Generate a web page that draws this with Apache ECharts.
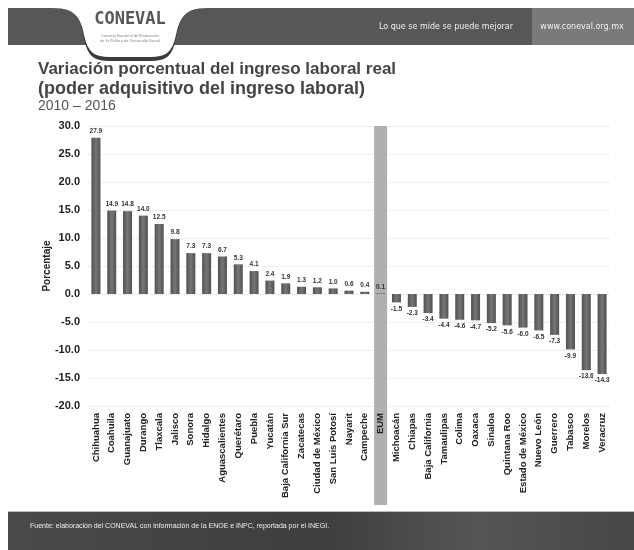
<!DOCTYPE html>
<html><head><meta charset="utf-8">
<script src="https://cdn.jsdelivr.net/npm/echarts@6/dist/echarts.min.js"></script>
<style>html,body{margin:0;padding:0;background:#fff}#c{width:634px;height:550px}</style>
</head><body><div id="c"></div>
<script>
var categories = ['Chihuahua','Coahuila','Guanajuato','Durango','Tlaxcala','Jalisco','Sonora','Hidalgo','Aguascalientes','Querétaro','Puebla','Yucatán','Baja California Sur','Zacatecas','Ciudad de México','San Luis Potosí','Nayarit','Campeche','EUM','Michoacán','Chiapas','Baja California','Tamaulipas','Colima','Oaxaca','Sinaloa','Quintana Roo','Estado de México','Nuevo León','Guerrero','Tabasco','Morelos','Veracruz'];
var values = [27.9,14.9,14.8,14.0,12.5,9.8,7.3,7.3,6.7,5.3,4.1,2.4,1.9,1.3,1.2,1.0,0.6,0.4,0.1,-1.5,-2.3,-3.4,-4.4,-4.6,-4.7,-5.2,-5.6,-6.0,-6.5,-7.3,-9.9,-13.6,-14.3];
var highlight = 'EUM';
var yMin = -20, yMax = 30, yStep = 5;

var NARROW = '"Liberation Sans Narrow","Liberation Sans",Arial,sans-serif';
var chart = echarts.init(document.getElementById('c'), null, {renderer:'canvas'});

var barColor = new echarts.graphic.LinearGradient(0,0,1,0,[
  {offset:0,color:'#505050'},{offset:0.5,color:'#767676'},{offset:1,color:'#505050'}]);

var data = values.map(function(v){
  return {value:v, label:{position: v < 0 ? 'bottom' : 'top'}};
});

function cubic(p0,p1,p2,p3,n){var out=[];for(var i=0;i<=n;i++){var t=i/n,u=1-t;
  out.push([u*u*u*p0[0]+3*u*u*t*p1[0]+3*u*t*t*p2[0]+t*t*t*p3[0],u*u*u*p0[1]+3*u*u*t*p1[1]+3*u*t*t*p2[1]+t*t*t*p3[1]]);}return out;}
function tab(bottom){
  var pts=[];
  pts=pts.concat(cubic([52,8],[72,8],[80,14],[84,bottom-22],12));
  pts=pts.concat(cubic([84,bottom-22],[88,bottom-4],[94,bottom],[110,bottom],8));
  pts.push([150,bottom]);
  pts=pts.concat(cubic([150,bottom],[166,bottom],[172,bottom-4],[176,bottom-22],8));
  pts=pts.concat(cubic([176,bottom-22],[180,14],[188,8],[208,8],12));
  return pts;
}

var staticGraphics = [
  {type:'rect', shape:{x:8,y:8,width:626,height:37}, style:{fill:'#575757'}, z:0},
  {type:'rect', shape:{x:532,y:8,width:102,height:37}, style:{fill:'#7a7a7a'}, z:0},
  {type:'polygon', shape:{points:tab(61)}, style:{fill:'#3a3a3a'}, z:0},
  {type:'polygon', shape:{points:tab(57)}, style:{fill:'#fff'}, z:0},
  {type:'text', style:{x:130,y:11,text:'CONEVAL',fill:'#555',font:'bold 17px "DejaVu Sans Mono",monospace',textAlign:'center'}, z:1},
  {type:'text', style:{x:130,y:33,text:'Consejo Nacional de Evaluación\nde la Política de Desarrollo Social',fill:'#888',font:'4px "Liberation Sans",sans-serif',textAlign:'center',lineHeight:5}, z:1},
  {type:'text', style:{x:446,y:27,text:'Lo que se mide se puede mejorar',fill:'#f0f0f0',font:'8px "DejaVu Sans",sans-serif',textAlign:'center',textVerticalAlign:'middle'}, z:1},
  {type:'text', style:{x:582,y:27,text:'www.coneval.org.mx',fill:'#f0f0f0',font:'8px "DejaVu Sans",sans-serif',textAlign:'center',textVerticalAlign:'middle'}, z:1},
  {type:'text', style:{x:38,y:61,text:'Variación porcentual del ingreso laboral real',fill:'#444',font:'bold 17px '+NARROW}, z:1},
  {type:'text', style:{x:38,y:80,text:'(poder adquisitivo del ingreso laboral)',fill:'#444',font:'bold 18px '+NARROW}, z:1},
  {type:'text', style:{x:38,y:99,text:'2010 – 2016',fill:'#555',font:'14px '+NARROW}, z:1},
  {type:'rect', shape:{x:8,y:511,width:626,height:39}, style:{fill:new echarts.graphic.LinearGradient(0,0,1,0,[{offset:0,color:'#4a4a4a'},{offset:0.5,color:'#3e3e3e'},{offset:0.75,color:'#555'},{offset:1,color:'#474747'}])}, z:0},
  {type:'rect', shape:{x:8,y:511,width:626,height:1}, style:{fill:'#bbb'}, z:0},
  {type:'text', style:{x:30,y:526,text:'Fuente: elaboración del CONEVAL con información de la ENOE e INPC, reportada por el INEGI.',fill:'#eee',font:'7px '+NARROW,textVerticalAlign:'middle'}, z:1}
];

var option = {
  backgroundColor:'#fff',
  animation:false,
  grid:{left:88,right:24,top:126,bottom:144,containLabel:false},
  xAxis:{type:'category',data:categories,z:3,
    axisLine:{show:false},axisTick:{show:false},
    axisLabel:{rotate:90,interval:0,margin:7,fontSize:9.5,fontWeight:'bold',color:'#222',fontFamily:NARROW}},
  yAxis:{type:'value',min:yMin,max:yMax,interval:yStep,z:0,
    name:'Porcentaje',nameLocation:'middle',nameGap:36,nameRotate:90,nameMoveOverlap:false,
    nameTextStyle:{fontSize:10,fontWeight:'bold',color:'#222',fontFamily:NARROW},
    axisLine:{show:false},axisTick:{show:false},
    axisLabel:{margin:8,fontSize:11,fontWeight:'bold',color:'#222',fontFamily:NARROW,formatter:function(v){return v.toFixed(1);}},
    splitLine:{lineStyle:{color:'#ddd',type:'dotted'}}},
  series:[{type:'bar',data:data,barWidth:9,z:2,
    itemStyle:{color:barColor},
    label:{show:true,fontSize:6.5,fontWeight:'bold',color:'#333',fontFamily:NARROW,distance:3,
      formatter:function(p){return p.value.toFixed(1);}}}],
  graphic:{elements:staticGraphics}
};
chart.setOption(option);

var cx = chart.convertToPixel({xAxisIndex:0}, highlight);
var cTop = chart.convertToPixel({yAxisIndex:0}, yMax);
var band = 13;
chart.setOption({graphic:{elements:staticGraphics.concat([
  {type:'rect', shape:{x:cx-band/2,y:cTop,width:band,height:505-cTop}, style:{fill:'#b0b0b0'}, z:1}
])}});
</script></body></html>
